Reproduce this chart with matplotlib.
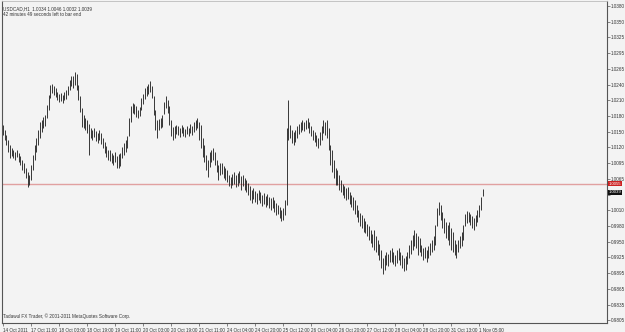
import numpy as np
import matplotlib.pyplot as plt

# USDCAD H1 bars, prices in pips (x 0.0001)
high_pips = [
    10162, 10153, 10144, 10135, 10126, 10120, 10117, 10113, 10117, 10111,
    10106, 10098, 10093, 10084, 10076, 10071, 10089, 10107, 10126, 10138,
    10153, 10168, 10171, 10177, 10181, 10199, 10217, 10235, 10237, 10234,
    10230, 10223, 10219, 10221, 10217, 10223, 10226, 10234, 10245, 10252,
    10252, 10259, 10256, 10235, 10215, 10193, 10181, 10175, 10171, 10164,
    10157, 10153, 10157, 10151, 10148, 10153, 10148, 10138, 10131, 10124,
    10117, 10117, 10111, 10107, 10113, 10106, 10109, 10111, 10122, 10129,
    10135, 10142, 10175, 10197, 10203, 10201, 10197, 10190, 10195, 10212,
    10219, 10230, 10234, 10237, 10243, 10234, 10215, 10190, 10171, 10173,
    10175, 10181, 10204, 10215, 10208, 10197, 10171, 10159, 10160, 10162,
    10160, 10157, 10162, 10159, 10155, 10160, 10157, 10164, 10160, 10168,
    10171, 10175, 10168, 10162, 10138, 10126, 10107, 10098, 10113, 10117,
    10120, 10113, 10098, 10089, 10093, 10093, 10087, 10084, 10080, 10071,
    10067, 10073, 10076, 10071, 10074, 10078, 10069, 10071, 10065, 10062,
    10056, 10051, 10043, 10047, 10042, 10038, 10043, 10040, 10034, 10038,
    10032, 10036, 10031, 10029, 10031, 10025, 10020, 10016, 10012, 10007,
    10010, 10025, 10157, 10208, 10162, 10153, 10149, 10153, 10160, 10164,
    10168, 10171, 10168, 10171, 10175, 10168, 10160, 10153, 10149, 10144,
    10138, 10149, 10160, 10171, 10168, 10171, 10157, 10126, 10117, 10098,
    10084, 10080, 10071, 10062, 10054, 10051, 10047, 10049, 10040, 10034,
    10031, 10025, 10016, 10007, 10001, 9998, 9992, 9987, 9981, 9977,
    9970, 9963, 9970, 9959, 9952, 9945, 9934, 9919, 9924, 9930,
    9926, 9934, 9937, 9930, 9924, 9934, 9937, 9930, 9924, 9919,
    9923, 9930, 9943, 9952, 9961, 9970, 9965, 9959, 9955, 9943,
    9937, 9939, 9934, 9941, 9946, 9952, 9959, 9979, 10010, 10021,
    10016, 10003, 9992, 9985, 9979, 9985, 9974, 9967, 9952, 9945,
    9952, 9959, 9967, 9979, 9999, 10005, 10003, 9999, 9996, 9992,
    9998, 10007, 10016, 10031, 10046,
]
low_pips = [
    10144, 10135, 10126, 10113, 10102, 10106, 10102, 10098, 10104, 10095,
    10089, 10080, 10074, 10065, 10049, 10052, 10062, 10080, 10098, 10113,
    10126, 10138, 10149, 10157, 10160, 10175, 10190, 10212, 10221, 10217,
    10213, 10208, 10204, 10206, 10202, 10208, 10210, 10217, 10226, 10234,
    10230, 10235, 10226, 10208, 10186, 10159, 10157, 10153, 10148, 10107,
    10138, 10135, 10140, 10133, 10129, 10135, 10128, 10120, 10111, 10104,
    10098, 10096, 10093, 10089, 10095, 10084, 10084, 10087, 10102, 10107,
    10113, 10120, 10142, 10168, 10184, 10182, 10177, 10175, 10179, 10190,
    10201, 10210, 10215, 10219, 10223, 10212, 10181, 10153, 10138, 10153,
    10157, 10159, 10182, 10193, 10184, 10162, 10142, 10135, 10138, 10146,
    10144, 10140, 10148, 10142, 10140, 10146, 10142, 10148, 10144, 10149,
    10153, 10157, 10135, 10120, 10104, 10095, 10080, 10067, 10085, 10095,
    10098, 10089, 10076, 10062, 10071, 10073, 10065, 10062, 10058, 10051,
    10047, 10052, 10054, 10049, 10051, 10056, 10043, 10051, 10043, 10040,
    10034, 10025, 10020, 10027, 10021, 10018, 10025, 10020, 10014, 10018,
    10012, 10016, 10010, 10007, 10010, 10003, 9998, 9999, 9992, 9987,
    9988, 9998, 10016, 10135, 10138, 10129, 10126, 10131, 10138, 10146,
    10149, 10153, 10151, 10155, 10157, 10148, 10142, 10135, 10131, 10124,
    10120, 10126, 10135, 10148, 10144, 10138, 10117, 10089, 10076, 10065,
    10052, 10052, 10043, 10040, 10034, 10029, 10025, 10027, 10018, 10012,
    10007, 9999, 9994, 9985, 9977, 9974, 9966, 9965, 9959, 9952,
    9946, 9939, 9934, 9930, 9924, 9915, 9901, 9890, 9897, 9906,
    9904, 9912, 9912, 9908, 9904, 9910, 9915, 9906, 9901, 9895,
    9897, 9908, 9919, 9926, 9934, 9941, 9937, 9924, 9930, 9923,
    9915, 9919, 9912, 9919, 9924, 9930, 9934, 9943, 9977, 9998,
    9988, 9974, 9965, 9955, 9952, 9943, 9934, 9930, 9924, 9919,
    9930, 9937, 9941, 9952, 9977, 9983, 9985, 9979, 9974, 9970,
    9977, 9985, 9994, 10007, 10032,
]

time_labels = ["14 Oct 2011", "17 Oct 11:00", "18 Oct 03:00", "18 Oct 19:00",
               "19 Oct 11:00", "20 Oct 03:00", "20 Oct 19:00", "21 Oct 11:00",
               "24 Oct 04:00", "24 Oct 20:00", "25 Oct 12:00", "26 Oct 04:00",
               "26 Oct 20:00", "27 Oct 12:00", "28 Oct 04:00", "28 Oct 20:00",
               "31 Oct 13:00", "1 Nov 05:00"]
# the label between 1.0010 and 1.0065 is hidden behind the current price box
price_labels = ["0.9805", "0.9835", "0.9865", "0.9895", "0.9925", "0.9950",
                "0.9980", "1.0010", "", "1.0065", "1.0095", "1.0120",
                "1.0150", "1.0180", "1.0210", "1.0240", "1.0265", "1.0295",
                "1.0325", "1.0350", "1.0380"]
red_level = 1.0055
last_close = 1.0039
header = "USDCAD,H1  1.0034 1.0046 1.0032 1.0039"
timer = "42 minutes 49 seconds left to bar end"
footer = "Tadawul FX Trader, \u00a9 2001-2011 MetaQuotes Software Corp."

highs = np.array(high_pips) / 10000
lows = np.array(low_pips) / 10000
n = len(highs)

plt.rcParams['font.family'] = ['Liberation Sans', 'DejaVu Sans']
bg = '#f3f3f3'
txt = '#333333'

fig = plt.figure(figsize=(6.25, 3.32), dpi=100)
fig.patch.set_facecolor(bg)
ax = fig.add_axes([2 / 625, 9 / 332, 605 / 625, 322 / 332])
ax.set_facecolor(bg)

ax.vlines(np.arange(n), lows, highs, color='#2a2a2a', lw=0.65)
ax.axhline(red_level, color='#e0a0a0', lw=1.0, zorder=1)

ax.set_xlim(-0.57, 345.1)
ax.set_ylim(0.97999, 1.03892)

ax.set_xticks(np.arange(0, n, 16)[:len(time_labels)])
ax.set_xticklabels(time_labels, ha='left', fontsize=3.3, color=txt)
ax.yaxis.tick_right()
ax.set_yticks(np.linspace(0.9805, 1.0380, len(price_labels)))
ax.set_yticklabels(price_labels, fontsize=3.3, color=txt)
ax.tick_params(axis='x', length=2.5, width=0.5, pad=1, colors='#555555')
ax.tick_params(axis='y', length=2, width=0.5, pad=1, colors='#555555')
for lbl in ax.get_xticklabels() + ax.get_yticklabels():
    lbl.set_color(txt)

for side in ['left', 'bottom', 'right']:
    ax.spines[side].set_color('#555555')
    ax.spines[side].set_linewidth(0.8)
ax.spines['top'].set_color('#bbbbbb')
ax.spines['top'].set_linewidth(0.6)

# price boxes on the right axis
trans = ax.get_yaxis_transform()
ax.text(1.003, red_level, f"{red_level:.4f}", transform=trans, fontsize=3.1,
        color='white', va='center', ha='left', zorder=5, clip_on=False,
        bbox=dict(boxstyle='square,pad=0.1', fc='#cc2222', ec='none'))
ax.text(1.003, last_close, f"{last_close:.4f}", transform=trans, fontsize=3.1,
        color='white', va='center', ha='left', zorder=5, clip_on=False,
        bbox=dict(boxstyle='square,pad=0.1', fc='#111111', ec='none'))

ax.text(0.002, 0.985, header, transform=ax.transAxes, fontsize=3.3,
        color=txt, va='top', ha='left')
ax.text(0.002, 0.965, timer, transform=ax.transAxes, fontsize=3.3,
        color=txt, va='top', ha='left')
ax.text(0.002, 0.012, footer, transform=ax.transAxes, fontsize=3.3,
        color=txt, va='bottom', ha='left')

fig.savefig('out.png', dpi=100, facecolor=bg)
